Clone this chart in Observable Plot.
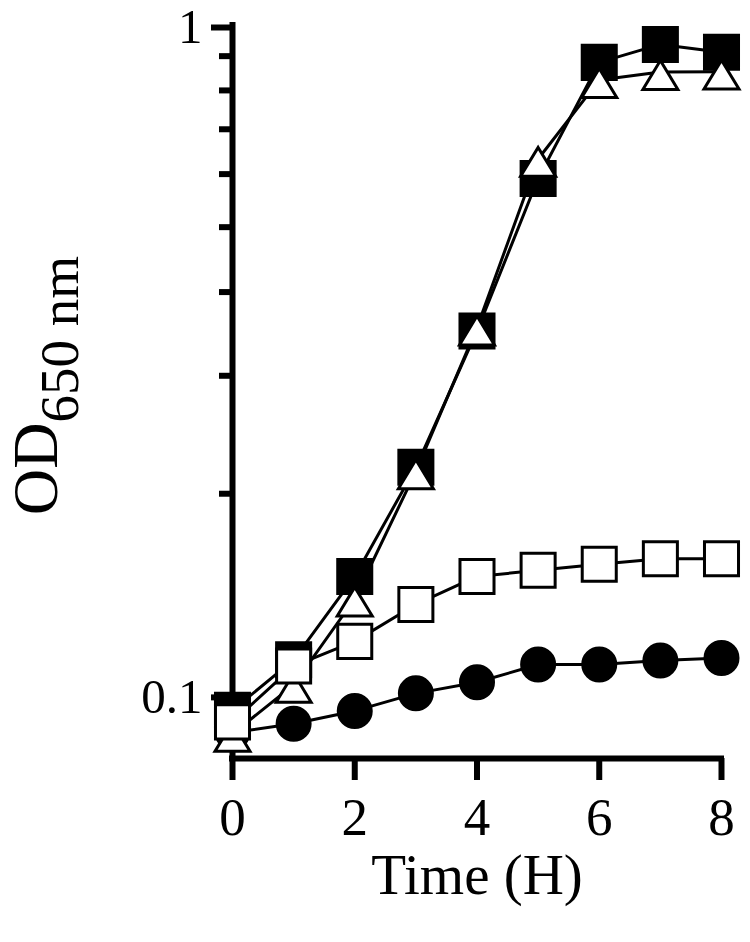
<!DOCTYPE html>
<html>
<head>
<meta charset="utf-8">
<script src="https://cdn.jsdelivr.net/npm/d3@7"></script>
<script src="https://cdn.jsdelivr.net/npm/@observablehq/plot@0.6"></script>
<style>
  html, body { margin: 0; padding: 0; background: #ffffff; }
  #chart svg { display: block; }
</style>
</head>
<body>
<div id="chart"></div>
<script>
// ---- data ----
const hours = [0, 1, 2, 3, 4, 5, 6, 7, 8];
const filledSquares = [0.095, 0.113, 0.1505, 0.219, 0.350, 0.591, 0.881, 0.937, 0.912];
const openTriangles = [0.0876, 0.1037, 0.1394, 0.216, 0.354, 0.632, 0.829, 0.852, 0.853];
const openSquares   = [0.0913, 0.1106, 0.1204, 0.1367, 0.1505, 0.1537, 0.157, 0.160, 0.160];
const filledCircles = [0.088, 0.0907, 0.0948, 0.1007, 0.1046, 0.1112, 0.1112, 0.1127, 0.1137];

const xTicks = [0, 2, 4, 6, 8];
const yMajorTicks = [0.1, 1];
const yMinorTicks = [0.2, 0.3, 0.4, 0.5, 0.6, 0.7, 0.8, 0.9];
const xDomain = [0, 8];
const yDomain = [0.0805, 1];

const xTitle = "Time (H)";
const yTitleMain = "OD";
const yTitleSub = "650 nm";

const rows = vals => hours.map((h, i) => ({ h, v: vals[i] }));
const A = rows(filledSquares), D = rows(openTriangles), B = rows(openSquares), C = rows(filledCircles);

// GraphPad-style triangle: anchor point sits ~40% down from the apex
const triangleSym = {
  draw(ctx, size) {
    const r = Math.sqrt(size / Math.PI);
    const h = r * 1.65;
    ctx.moveTo(0, -0.4 * h);
    ctx.lineTo(r, 0.6 * h);
    ctx.lineTo(-r, 0.6 * h);
    ctx.closePath();
  }
};

const lineOpts = { x: "h", y: "v", stroke: "black", strokeWidth: 3 };

const plot = Plot.plot({
  width: 750,
  height: 942,
  marginLeft: 232,
  marginRight: 29,
  marginTop: 25,
  marginBottom: 184,
  x: { domain: xDomain, axis: null },
  y: { type: "log", domain: yDomain, axis: null },
  style: { fontFamily: "'Liberation Serif', 'Times New Roman', serif", background: "white", color: "black" },
  marks: [
    Plot.axisY(yMinorTicks, { tickSize: 13, strokeWidth: 6, tickFormat: () => "", label: null }),
    Plot.axisY(yMajorTicks, { tickSize: 21, strokeWidth: 6, tickPadding: 9, fontSize: 49, dy: 2, tickFormat: d => String(d), label: null }),
    Plot.axisX(xTicks, { tickSize: 22, strokeWidth: 6, tickPadding: 17, fontSize: 53, tickFormat: d => String(d), label: null }),
    Plot.ruleX([xDomain[0]], { strokeWidth: 6, strokeLinecap: "square" }),
    Plot.ruleY([yDomain[0]], { strokeWidth: 6, strokeLinecap: "square" }),
    Plot.line(A, lineOpts),
    Plot.line(C, lineOpts),
    Plot.line(D, lineOpts),
    Plot.line(B, lineOpts),
    Plot.dot(A, { x: "h", y: "v", symbol: "square", r: 19.2, fill: "black", stroke: "black", strokeWidth: 3 }),
    Plot.dot(C, { x: "h", y: "v", symbol: "circle", r: 16.5, fill: "black", stroke: "black", strokeWidth: 3 }),
    Plot.dot(D, { x: "h", y: "v", symbol: triangleSym, r: 17.5, fill: "white", stroke: "black", strokeWidth: 3 }),
    Plot.dot(B, { x: "h", y: "v", symbol: "square", r: 19.2, fill: "white", stroke: "black", strokeWidth: 3 }),
    Plot.text([xTitle], { frameAnchor: "bottom", dy: 117, lineAnchor: "middle", fontSize: 57, fill: "black" })
  ]
});

// y-axis title with subscript
const svg = d3.select(plot);
const t = svg.append("text")
  .attr("transform", "translate(57,515) rotate(-90)")
  .attr("text-anchor", "start")
  .attr("fill", "black")
  .style("font-family", "'Liberation Serif', 'Times New Roman', serif");
t.append("tspan").attr("font-size", 64).text(yTitleMain);
t.append("tspan").attr("font-size", 55).attr("dy", 21).text(yTitleSub);

document.getElementById("chart").appendChild(plot);
</script>
</body>
</html>
